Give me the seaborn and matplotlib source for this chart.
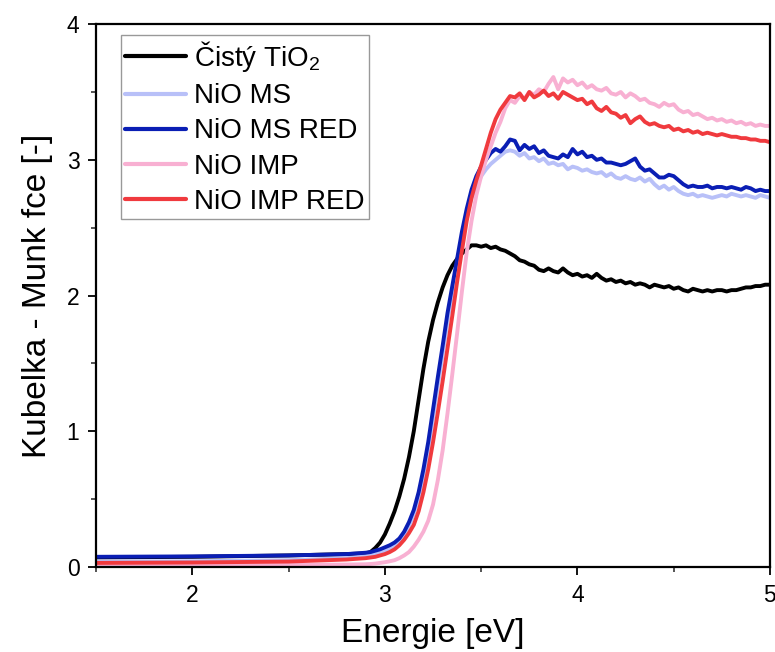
import numpy as np
import pandas as pd
import matplotlib
matplotlib.use("Agg")
import matplotlib.pyplot as plt
import seaborn as sns

energy = [1.5, 2.0, 2.5, 2.8,
          2.900, 2.925, 2.950, 2.975, 3.000, 3.025, 3.050, 3.075, 3.100, 3.125,
          3.150, 3.175, 3.200, 3.225, 3.250, 3.275, 3.300, 3.325, 3.350, 3.375,
          3.400, 3.425, 3.450, 3.475, 3.500, 3.525, 3.550, 3.575, 3.600, 3.625,
          3.650, 3.675, 3.700, 3.725, 3.750, 3.775, 3.800, 3.825, 3.850, 3.875,
          3.900, 3.925, 3.950, 3.975, 4.000, 4.025, 4.050, 4.075, 4.100, 4.125,
          4.150, 4.175, 4.200, 4.225, 4.250, 4.275, 4.300, 4.325, 4.350, 4.375,
          4.400, 4.425, 4.450, 4.475, 4.500, 4.525, 4.550, 4.575, 4.600, 4.625,
          4.650, 4.675, 4.700, 4.725, 4.750, 4.775, 4.800, 4.825, 4.850, 4.875,
          4.900, 4.925, 4.950, 4.975, 5.000]

tio2 = [0.07, 0.075, 0.085, 0.095,
        0.10, 0.11, 0.14, 0.18, 0.24, 0.32, 0.41, 0.52, 0.65, 0.81,
        1.00, 1.23, 1.46, 1.66, 1.82, 1.95, 2.06, 2.15, 2.22, 2.27,
        2.31, 2.34, 2.37, 2.37, 2.36, 2.37, 2.35, 2.36, 2.34, 2.33,
        2.31, 2.29, 2.26, 2.25, 2.23, 2.22, 2.19, 2.18, 2.20, 2.18,
        2.17, 2.20, 2.17, 2.15, 2.16, 2.14, 2.15, 2.13, 2.16, 2.13,
        2.11, 2.12, 2.10, 2.11, 2.09, 2.10, 2.08, 2.09, 2.08, 2.06,
        2.08, 2.07, 2.06, 2.07, 2.05, 2.06, 2.04, 2.03, 2.05, 2.04,
        2.03, 2.04, 2.03, 2.04, 2.04, 2.03, 2.04, 2.04, 2.05, 2.06,
        2.06, 2.07, 2.07, 2.08, 2.08]

nio_ms = [0.04, 0.042, 0.05, 0.065,
          0.08, 0.085, 0.095, 0.105, 0.12, 0.135, 0.155, 0.19, 0.24, 0.30,
          0.39, 0.51, 0.67, 0.87, 1.10, 1.34, 1.57, 1.81, 2.02, 2.22,
          2.42, 2.59, 2.72, 2.81, 2.88, 2.93, 2.97, 3.00, 3.03, 3.06,
          3.07, 3.06, 3.03, 3.05, 3.01, 3.02, 2.99, 3.01, 2.97, 2.98,
          2.96, 2.97, 2.93, 2.95, 2.94, 2.92, 2.93, 2.91, 2.90, 2.91,
          2.88, 2.90, 2.87, 2.86, 2.88, 2.86, 2.85, 2.87, 2.84, 2.86,
          2.82, 2.79, 2.81, 2.78, 2.80, 2.77, 2.75, 2.74, 2.75, 2.73,
          2.74, 2.73, 2.72, 2.73, 2.74, 2.73, 2.75, 2.74, 2.73, 2.74,
          2.73, 2.72, 2.74, 2.73, 2.72]

nio_ms_red = [0.075, 0.078, 0.085, 0.095,
              0.105, 0.11, 0.12, 0.13, 0.145, 0.16, 0.18, 0.21, 0.26, 0.33,
              0.42, 0.55, 0.72, 0.92, 1.16, 1.40, 1.63, 1.87, 2.07, 2.27,
              2.47, 2.64, 2.78, 2.88, 2.95, 3.00, 3.05, 3.08, 3.06, 3.10,
              3.15, 3.14, 3.07, 3.11, 3.08, 3.10, 3.05, 3.07, 3.03, 3.02,
              3.01, 3.04, 3.02, 3.08, 3.04, 3.06, 3.02, 3.03, 3.00, 3.01,
              2.98, 2.98, 2.97, 2.96, 2.97, 2.99, 3.01, 2.95, 2.92, 2.93,
              2.90, 2.87, 2.87, 2.89, 2.88, 2.85, 2.82, 2.80, 2.81, 2.80,
              2.80, 2.81, 2.79, 2.80, 2.80, 2.79, 2.80, 2.79, 2.78, 2.80,
              2.79, 2.77, 2.78, 2.77, 2.77]

nio_imp = [0.01, 0.012, 0.015, 0.018,
           0.02, 0.022, 0.025, 0.03, 0.035, 0.042, 0.05, 0.065, 0.085, 0.11,
           0.15, 0.20, 0.26, 0.34, 0.46, 0.64, 0.86, 1.13, 1.42, 1.72,
           2.03, 2.32, 2.55, 2.74, 2.88, 3.00, 3.10, 3.20, 3.28, 3.38,
           3.44, 3.42, 3.47, 3.45, 3.50, 3.48, 3.52, 3.50, 3.56, 3.61,
           3.52, 3.60, 3.57, 3.59, 3.55, 3.57, 3.53, 3.55, 3.52, 3.51,
           3.53, 3.49, 3.48, 3.50, 3.46, 3.49, 3.47, 3.44, 3.45, 3.42,
           3.41, 3.39, 3.42, 3.40, 3.41, 3.37, 3.35, 3.36, 3.33, 3.34,
           3.32, 3.30, 3.31, 3.29, 3.30, 3.28, 3.29, 3.27, 3.28, 3.26,
           3.27, 3.25, 3.26, 3.25, 3.25]

nio_imp_red = [0.03, 0.033, 0.04, 0.055,
               0.065, 0.07, 0.075, 0.085, 0.095, 0.11, 0.13, 0.16, 0.20, 0.25,
               0.31, 0.41, 0.55, 0.72, 0.92, 1.14, 1.37, 1.61, 1.85, 2.10,
               2.33, 2.55, 2.72, 2.85, 2.96, 3.08, 3.20, 3.30, 3.37, 3.42,
               3.47, 3.46, 3.49, 3.44, 3.50, 3.46, 3.48, 3.51, 3.47, 3.49,
               3.45, 3.50, 3.48, 3.46, 3.44, 3.45, 3.41, 3.43, 3.38, 3.36,
               3.39, 3.35, 3.34, 3.31, 3.33, 3.27, 3.30, 3.32, 3.28, 3.26,
               3.27, 3.25, 3.24, 3.25, 3.22, 3.23, 3.21, 3.22, 3.20, 3.21,
               3.19, 3.20, 3.19, 3.18, 3.19, 3.18, 3.17, 3.17, 3.16, 3.16,
               3.15, 3.15, 3.14, 3.14, 3.13]

labels = ["Čistý TiO$_2$", "NiO MS", "NiO MS RED", "NiO IMP", "NiO IMP RED"]
series = [tio2, nio_ms, nio_ms_red, nio_imp, nio_imp_red]
colors = ["#000000", "#b8c0f8", "#0a1eb4", "#f8b0d2", "#f03a3e"]

x_ticks = [2, 3, 4, 5]
y_ticks = [0, 1, 2, 3, 4]

frames = []
for lab, vals in zip(labels, series):
    frames.append(pd.DataFrame({"E": energy, "KM": vals, "vzorek": lab}))
df = pd.concat(frames, ignore_index=True)

sns.set_theme(style="ticks")
plt.rcParams["font.family"] = ["Liberation Sans", "DejaVu Sans"]
plt.rcParams["mathtext.default"] = "regular"
plt.rcParams["text.color"] = "black"
plt.rcParams["axes.labelcolor"] = "black"

fig = plt.figure(figsize=(7.75, 6.52), dpi=100)
ax = fig.add_axes([0.124, 0.1304, 0.8695, 0.8326])

sns.lineplot(data=df, x="E", y="KM", hue="vzorek", hue_order=labels,
             palette=dict(zip(labels, colors)), sort=False,
             linewidth=2.8, ax=ax, estimator=None)

ax.set_xlim(1.5, 5.0)
ax.set_ylim(0, 4)
ax.set_xticks(x_ticks)
ax.set_yticks(y_ticks)
ax.set_xticks([1.5, 2.5, 3.5, 4.5], minor=True)
ax.set_yticks([0.5, 1.5, 2.5, 3.5], minor=True)
ax.tick_params(axis="both", which="major", direction="out", length=6, width=1.3,
               labelsize=16.5, pad=6, colors="black")
ax.tick_params(axis="both", which="minor", direction="out", length=3.5, width=1.1)
for s in ax.spines.values():
    s.set_linewidth(1.6)
    s.set_color("black")

ax.set_xlabel("Energie [eV]", fontsize=24, labelpad=8, color="black")
ax.set_ylabel("Kubelka - Munk fce [-]", fontsize=24, labelpad=10, color="black")

leg = ax.legend(loc="upper left", bbox_to_anchor=(0.0366, 0.98), fontsize=20,
                handlelength=2.2, handletextpad=0.3, labelspacing=0.33,
                borderpad=0.15, borderaxespad=0.0, fancybox=False, frameon=True,
                title=None)
leg.get_frame().set_edgecolor("#808080")
leg.get_frame().set_linewidth(1.0)
for line in leg.get_lines():
    line.set_linewidth(3.0)
for t in leg.get_texts():
    t.set_color("black")

fig.savefig("out.png", dpi=100)
